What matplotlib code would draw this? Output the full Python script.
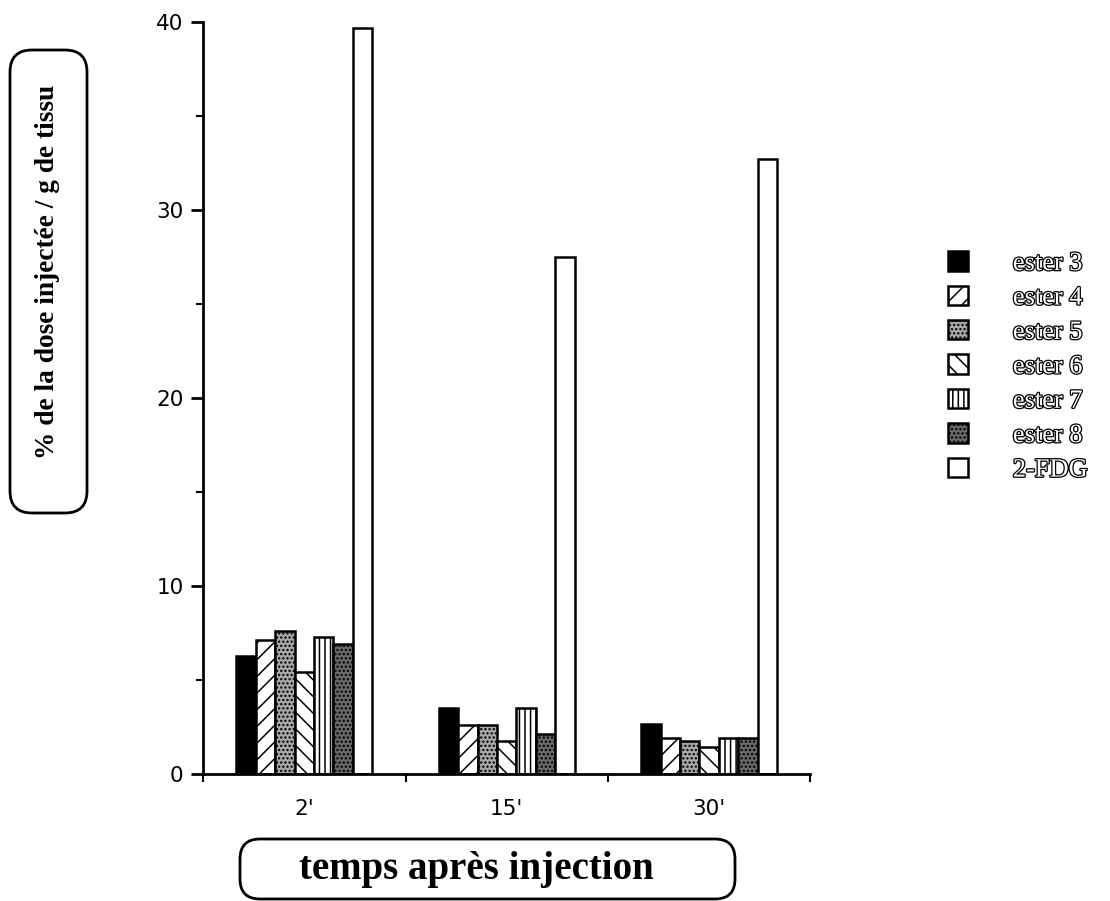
import numpy as np
import matplotlib
matplotlib.use("Agg")
import matplotlib.pyplot as plt
import matplotlib.patheffects as pe
from matplotlib.patches import FancyBboxPatch
from matplotlib.ticker import MultipleLocator

# DATA
times = ["2'", "15'", "30'"]
series = ["ester 3", "ester 4", "ester 5", "ester 6", "ester 7", "ester 8", "2-FDG"]
ester3 = [6.3, 3.5, 2.65]
ester4 = [7.1, 2.6, 1.9]
ester5 = [7.6, 2.6, 1.75]
ester6 = [5.4, 1.75, 1.45]
ester7 = [7.3, 3.5, 1.9]
ester8 = [6.9, 2.15, 1.9]
fdg = [39.7, 27.5, 32.7]
values = [ester3, ester4, ester5, ester6, ester7, ester8, fdg]

# styles (face, hatch)
faces = ["black", "white", "#a8a8a8", "white", "white", "#6a6a6a", "white"]
hatches = [None, "//", "....", "\\\\", "|||", "....", None]

plt.rcParams['hatch.linewidth'] = 1.1

fig = plt.figure(figsize=(11.1, 9.01), dpi=100)
ax = fig.add_axes([0.183, 0.141, 0.547, 0.8346])

w = 0.096
x = np.arange(len(times)) + 0.5
bars = []
for i, (vals, fc, h) in enumerate(zip(values, faces, hatches)):
    b = ax.bar(x + (i - 3) * w, vals, width=w, facecolor=fc, edgecolor="black",
               hatch=h, linewidth=1.8, label=series[i])
    bars.append(b)

ax.set_xlim(0, 3)
ax.set_ylim(0, 40)
ax.spines['top'].set_visible(False)
ax.spines['right'].set_visible(False)
ax.spines['left'].set_linewidth(2)
ax.spines['bottom'].set_linewidth(2)

ax.yaxis.set_major_locator(MultipleLocator(10))
ax.yaxis.set_minor_locator(MultipleLocator(5))
ax.tick_params(axis='y', which='major', length=9, width=2, pad=5)
ax.tick_params(axis='y', which='minor', length=5, width=1.5)

ax.set_xticks([0, 1, 2, 3])
ax.set_xticklabels([])
ax.set_xticks(x, minor=True)
ax.set_xticklabels(times, minor=True)
ax.tick_params(axis='x', which='major', length=6, width=1.5)
ax.tick_params(axis='x', which='minor', length=0, pad=18)
for t in ax.get_yticklabels() + ax.get_xticklabels(minor=True):
    t.set_family(['DejaVu Sans'])
    t.set_fontsize(15.5)

# rounded label boxes
ybox = FancyBboxPatch((0.10, 3.88), 0.77, 4.63, boxstyle="round,pad=0,rounding_size=0.22",
                      transform=fig.dpi_scale_trans, facecolor="none", edgecolor="black",
                      linewidth=2)
xbox = FancyBboxPatch((2.40, 0.02), 4.95, 0.60, boxstyle="round,pad=0,rounding_size=0.2",
                      transform=fig.dpi_scale_trans, facecolor="none", edgecolor="black",
                      linewidth=2)
fig.add_artist(ybox)
fig.add_artist(xbox)

fig.text(0.48 / 11.1, (9.01 - 2.72) / 9.01, "% de la dose injectée / g de tissu",
         rotation=90, ha="center", va="center", fontsize=19.7, fontweight="bold",
         family=["Liberation Serif", "DejaVu Serif"])
fig.text(4.76 / 11.1, 0.32 / 9.01, "temps après injection", ha="center", va="center",
         fontsize=28, fontweight="bold", family=["Liberation Serif", "DejaVu Serif"])

leg = ax.legend(handles=bars, labels=series, loc="upper left",
                bbox_to_anchor=(9.35 / 11.1, (9.01 - 2.38) / 9.01),
                bbox_transform=fig.transFigure, frameon=False,
                prop={'family': 'Liberation Serif', 'size': 19},
                handlelength=0.75, handleheight=0.75, handletextpad=1.7,
                labelspacing=0.4, borderpad=0)
for t in leg.get_texts():
    t.set_color("white")
    t.set_path_effects([pe.withStroke(linewidth=1.8, foreground="black")])

fig.savefig("out.png", dpi=100)
